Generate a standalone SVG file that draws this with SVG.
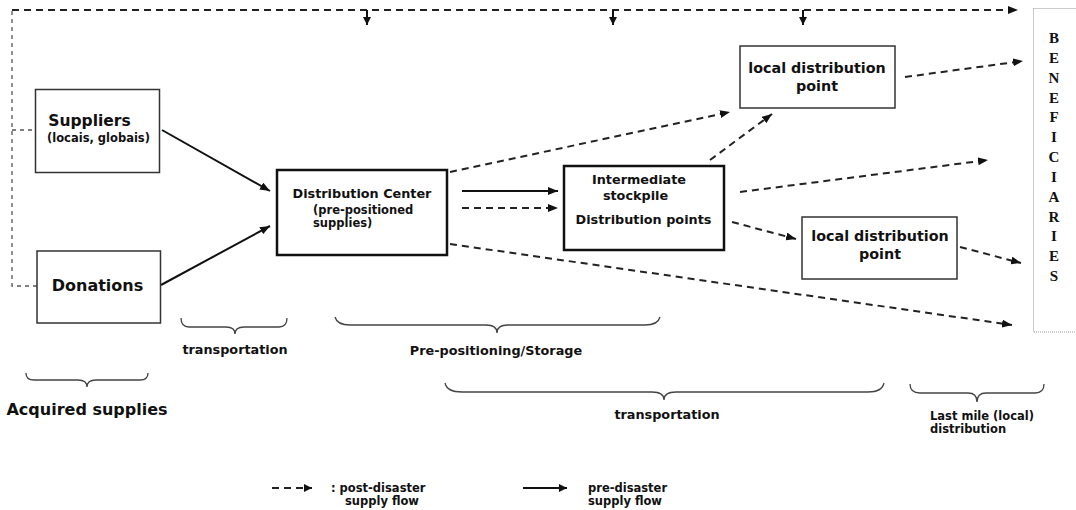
<svg xmlns="http://www.w3.org/2000/svg" width="1076" height="510" viewBox="0 0 1076 510">
<defs>
<marker id="ah" viewBox="0 0 10 8" refX="10" refY="4" markerWidth="10" markerHeight="8" markerUnits="userSpaceOnUse" orient="auto">
<path d="M0,0 L10,4 L0,8 Z" fill="#111"/>
</marker>
<marker id="ahs" viewBox="0 0 8 8" refX="8" refY="4" markerWidth="8" markerHeight="8" markerUnits="userSpaceOnUse" orient="auto">
<path d="M0,0 L8,4 L0,8 Z" fill="#111"/>
</marker>
<style>
.t{font-family:"DejaVu Sans",Verdana,sans-serif;font-weight:bold;fill:#111}
.box{fill:#fff;stroke:#333;stroke-width:1.5}
.boxb{fill:#fff;stroke:#111;stroke-width:2.5}
.sol{stroke:#111;stroke-width:2;fill:none}
.dsh{stroke:#222;stroke-width:2;fill:none;stroke-dasharray:7 5}
.thin{stroke:#555;stroke-width:1.3;fill:none;stroke-dasharray:4 4}
.br{stroke:#444;stroke-width:1.3;fill:none}
.ben{font-family:"Liberation Serif","Times New Roman",serif;font-weight:bold;font-size:15px;fill:#111}
</style>
</defs>
<g id="connectors">
<path class="thin" d="M12,11 V286 H37"/>
<path class="thin" d="M12,130 H35"/>
<path class="dsh" d="M12,10 H1018" marker-end="url(#ah)"/>
<path class="sol" d="M367,10 V25" marker-end="url(#ahs)"/>
<path class="sol" d="M613,10 V25" marker-end="url(#ahs)"/>
<path class="sol" d="M803,10 V25" marker-end="url(#ahs)"/>
<path class="sol" d="M162,130 L270,191" marker-end="url(#ah)"/>
<path class="sol" d="M161,285 L270,226" marker-end="url(#ah)"/>
<path class="sol" d="M462,191 H558" marker-end="url(#ah)"/>
<path class="dsh" d="M462,208 H558" marker-end="url(#ah)"/>
<path class="dsh" d="M450,172 L730,112" marker-end="url(#ah)"/>
<path class="dsh" d="M710,160 L772,114" marker-end="url(#ah)"/>
<path class="dsh" d="M740,192 L988,160" marker-end="url(#ah)"/>
<path class="dsh" d="M732,222 L796,239" marker-end="url(#ah)"/>
<path class="dsh" d="M450,244 L1012,325" marker-end="url(#ah)"/>
<path class="dsh" d="M905,77 L1023,61" marker-end="url(#ah)"/>
<path class="dsh" d="M960,247 L1021,263" marker-end="url(#ah)"/>
</g>
<g id="suppliers">
<rect class="box" x="35.5" y="89.5" width="124" height="83"/>
<text class="t" x="89.5" y="126" font-size="15.5" text-anchor="middle">Suppliers</text>
<text class="t" x="98.5" y="142" font-size="11.5" text-anchor="middle">(locais, globais)</text>
</g>
<g id="donations">
<rect class="box" x="37" y="251" width="123.5" height="72"/>
<text class="t" x="97.5" y="291" font-size="16" text-anchor="middle">Donations</text>
</g>
<g id="distribution-center">
<rect class="boxb" x="277" y="170" width="170" height="85"/>
<text class="t" x="362" y="198" font-size="12.8" text-anchor="middle">Distribution Center</text>
<text class="t" x="313" y="214" font-size="11.5">(pre-positioned</text>
<text class="t" x="313" y="227" font-size="11.5">supplies)</text>
</g>
<g id="intermediate">
<rect class="boxb" x="564" y="166" width="160" height="84"/>
<text class="t" x="639" y="184" font-size="12.8" text-anchor="middle">Intermediate</text>
<text class="t" x="635.5" y="200" font-size="12.8" text-anchor="middle">stockpile</text>
<text class="t" x="643.5" y="224" font-size="12.8" text-anchor="middle">Distribution points</text>
</g>
<g id="local-point-1">
<rect class="box" x="740" y="46" width="155" height="62" stroke="#555"/>
<text class="t" x="817" y="73" font-size="14.3" text-anchor="middle">local distribution</text>
<text class="t" x="817" y="91" font-size="14.3" text-anchor="middle">point</text>
</g>
<g id="local-point-2">
<rect class="box" x="802" y="217" width="155" height="62" stroke="#555"/>
<text class="t" x="880" y="241" font-size="14.3" text-anchor="middle">local distribution</text>
<text class="t" x="880" y="259" font-size="14.3" text-anchor="middle">point</text>
</g>
<g id="beneficiaries">
<rect x="1033.5" y="8.5" width="50" height="323.5" fill="none" stroke="#999" stroke-width="1" stroke-dasharray="1 1"/>
<text class="ben" x="1054" text-anchor="middle"><tspan x="1054" y="43">B</tspan><tspan x="1054" y="62.8">E</tspan><tspan x="1054" y="82.7">N</tspan><tspan x="1054" y="102.5">E</tspan><tspan x="1054" y="122.3">F</tspan><tspan x="1054" y="142.2">I</tspan><tspan x="1054" y="162">C</tspan><tspan x="1054" y="181.8">I</tspan><tspan x="1054" y="201.7">A</tspan><tspan x="1054" y="221.5">R</tspan><tspan x="1054" y="241.3">I</tspan><tspan x="1054" y="261.2">E</tspan><tspan x="1054" y="281">S</tspan></text>
</g>
<g id="braces">
<path class="br" d="M181,318 Q181,327 189,327 L226,327 Q235,327 235,334 Q235,327 244,327 L279,327 Q287,327 287,318"/>
<path class="br" d="M335,317 Q337,325 350,325 L486,325 Q497,325 497,333 Q497,325 508,325 L645,325 Q658,325 660,317"/>
<path class="br" d="M26,373 Q26,380 34,380 L78,380 Q87,380 87,387 Q87,380 96,380 L140,380 Q148,380 148,373"/>
<path class="br" d="M445,383 Q447,392 462,392 L652,392 Q664,392 664,400 Q664,392 676,392 L868,392 Q882,392 884,383"/>
<path class="br" d="M910,384 Q910,393 920,393 L968,393 Q977,393 977,402 Q977,393 986,393 L1035,393 Q1044,393 1044,384"/>
</g>
<g id="labels">
<text class="t" x="235" y="354" font-size="12.8" text-anchor="middle">transportation</text>
<text class="t" x="496" y="355" font-size="12.8" text-anchor="middle">Pre-positioning/Storage</text>
<text class="t" x="87" y="415" font-size="16" text-anchor="middle">Acquired supplies</text>
<text class="t" x="667" y="419" font-size="12.8" text-anchor="middle">transportation</text>
<text class="t" x="930" y="420" font-size="11.5">Last mile (local)</text>
<text class="t" x="930" y="433" font-size="11.5">distribution</text>
</g>
<g id="legend">
<path class="dsh" d="M272,488 H312" stroke-dasharray="6 4" marker-end="url(#ahs)"/>
<text class="t" x="331" y="492" font-size="11.5">: post-disaster</text>
<text class="t" x="345" y="505" font-size="11.5">supply flow</text>
<path class="sol" d="M523,488 H567" marker-end="url(#ahs)"/>
<text class="t" x="588" y="492" font-size="11.5">pre-disaster</text>
<text class="t" x="588" y="505" font-size="11.5">supply flow</text>
</g>
</svg>
